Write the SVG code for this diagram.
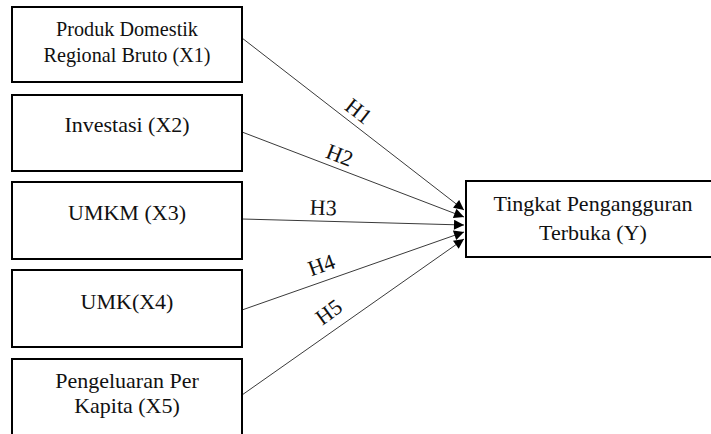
<svg xmlns="http://www.w3.org/2000/svg" width="711" height="434" viewBox="0 0 711 434">
<defs>
<style>
.box{fill:#fff;stroke:#000;stroke-width:2}
text{font-family:'Liberation Serif','Times New Roman',serif;font-size:22px;fill:#111;text-anchor:middle}
.sm{font-size:20.2px}
.c{stroke:#3a3a3a;stroke-width:1;fill:none;marker-end:url(#ah)}
</style>
<marker id="ah" viewBox="0 0 10 10" refX="10" refY="5" markerWidth="11" markerHeight="10" markerUnits="userSpaceOnUse" orient="auto">
<path d="M0,0 L10,5 L0,10 z" fill="#000"/>
</marker>
</defs>
<rect width="711" height="434" fill="#fff"/>
<g id="connectors">
<line class="c" x1="242" y1="38" x2="464" y2="210"/>
<line class="c" x1="242" y1="132" x2="464" y2="217"/>
<line class="c" x1="242" y1="219" x2="464" y2="225"/>
<line class="c" x1="242" y1="310" x2="464" y2="232"/>
<line class="c" x1="242" y1="395" x2="464" y2="239"/>
<text transform="translate(354,117) rotate(38)">H1</text>
<text transform="translate(337,162) rotate(21)">H2</text>
<text transform="translate(323,215) rotate(2)">H3</text>
<text transform="translate(324,272) rotate(-20)">H4</text>
<text transform="translate(333,318) rotate(-36)">H5</text>
</g>
<g id="x1">
<rect class="box" x="12" y="7" width="230" height="75"/>
<text class="sm" x="127" y="36">Produk Domestik</text>
<text class="sm" x="127" y="62">Regional Bruto (X1)</text>
</g>
<g id="x2">
<rect class="box" x="12" y="95" width="230" height="76"/>
<text x="127" y="132">Investasi (X2)</text>
</g>
<g id="x3">
<rect class="box" x="12" y="182" width="230" height="77"/>
<text x="127" y="220">UMKM (X3)</text>
</g>
<g id="x4">
<rect class="box" x="12" y="270" width="230" height="77"/>
<text x="127" y="309">UMK(X4)</text>
</g>
<g id="x5">
<rect class="box" x="12" y="359" width="230" height="80"/>
<text x="127" y="388">Pengeluaran Per</text>
<text x="127" y="413">Kapita (X5)</text>
</g>
<g id="y">
<rect class="box" x="466" y="181" width="250" height="76"/>
<text x="593" y="211">Tingkat Pengangguran</text>
<text x="593" y="240">Terbuka (Y)</text>
</g>
</svg>
